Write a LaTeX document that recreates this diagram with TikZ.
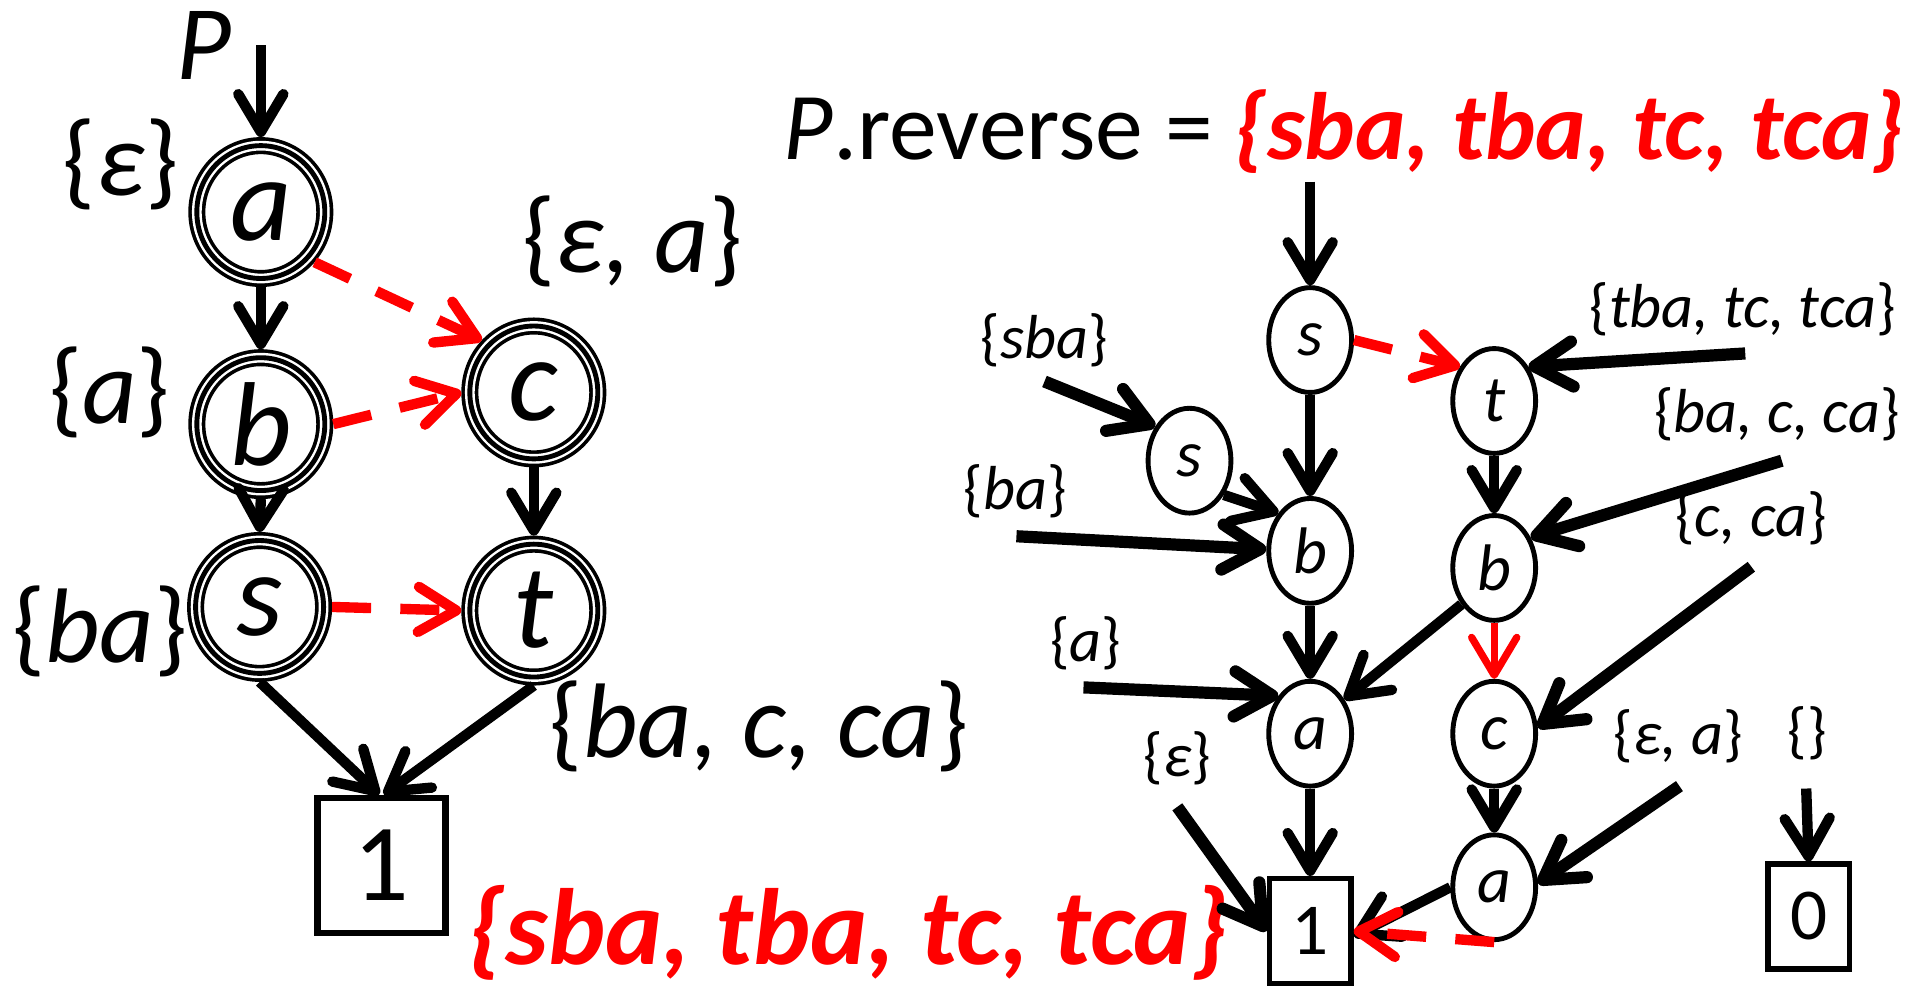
\documentclass[tikz,border=0pt]{standalone}
\usepackage{fontspec}
\setmainfont{Carlito}
\usetikzlibrary{arrows.meta,shapes.geometric}
\newcommand\mylb{\textup{\{}}
\newcommand\myrb{\textup{\}}}
\begin{document}
\begin{tikzpicture}[x=1pt,y=-1pt,
  every node/.style={inner sep=0pt},
  tri/.style={ellipse, draw=black, line width=14pt, fill=white,
    minimum width=105pt, minimum height=109pt,
    postaction={draw=white,line width=8pt},
    postaction={draw=black,line width=4pt},
    font=\fontsize{98}{98}\selectfont\itshape},
  rn/.style={ellipse, draw=black, line width=4pt, fill=white,
    minimum width=68pt, minimum height=86pt,
    font=\fontsize{54}{54}\selectfont\itshape},
  lbox/.style={rectangle, draw=black, line width=5pt, fill=white,
    minimum width=105pt, minimum height=111pt,
    font=\fontsize{90}{90}\selectfont},
  rbox/.style={rectangle, draw=black, line width=4.5pt, fill=white,
    minimum width=67pt, minimum height=86pt,
    font=\fontsize{60}{60}\selectfont},
  bl/.style={font=\fontsize{87}{87}\selectfont\itshape},
  sl/.style={font=\fontsize{51}{51}\selectfont\itshape},
  tip/.style={-{Straight Barb[length=31pt,width=37pt,line cap=round,line join=round]}},
  arr/.style={draw=black, line width=8.5pt, tip},
  larr/.style={draw=black, line width=10pt, tip},
  rdash/.style={draw=red, line width=8.5pt, dash pattern=on 32pt off 24pt, tip},
  rsolid/.style={draw=red, line width=6pt, tip}
]
\useasboundingbox (0,0) rectangle (1568,811);

% ---------------- left diagram ----------------
\node[tri] (a) at (214,174) {a};
\node[tri] (b) at (214,348) {b};
\node[tri] (s) at (213,498) {s};
\node[tri] (c) at (438,322) {c};
\node[tri] (t) at (438,501) {t};
\node[lbox] (one) at (313,710) {1};

\node[bl] (P) at (167,37) {P};
\coordinate (pin) at (214,37);
\node[bl] (la) at (99,135) {\mylb ε\myrb};
\node[bl] (lb) at (90,322) {\mylb a\myrb};
\node[bl] (ls) at (82,518) {\mylb ba\myrb};
\node[bl] (lc) at (519,198) {\mylb ε, a\myrb};
\node[bl] (lt) at (623,596) {\mylb ba, c, ca\myrb};
\node[font=\fontsize{89}{89}\selectfont\bfseries\itshape, text=red] (lone) at (696,765) {\{sba, tba, tc, tca\}};

\draw[arr] (pin) -- (a.north);
\draw[arr] (a.south) -- (b.north);
\draw[arr] (b.south) -- (s.north);
\draw[arr] (c.south) -- (t.north);
\draw[arr] (s.south) -- ([xshift=-2pt]one.north);
\draw[arr] (t.south) -- ([xshift=2pt]one.north);
\draw[rdash] (a.-43) -- (c.135);
\draw[rdash] (b.east) -- (c.west);
\draw[rdash] (s.east) -- (t.west);

% ---------------- right diagram ----------------
\node[anchor=base west, font=\fontsize{78.5}{78.5}\selectfont] (title) at (643,131)
  {\itshape P\upshape.reverse = {\color{red}\bfseries\itshape \{sba, tba, tc, tca\}}};
\coordinate (rin) at (1075,149);

\node[rn] (s1) at (1075,279) {s};
\node[rn] (t1) at (1226,329) {t};
\node[rn] (s2) at (976,378) {s};
\node[rn] (b1) at (1075,452) {b};
\node[rn] (b2) at (1226,466) {b};
\node[rn] (a1) at (1075,602) {a};
\node[rn] (c1) at (1226,602) {c};
\node[rn] (a2) at (1226,728) {a};
\node[rbox] (one2) at (1075,764) {1};
\node[rbox] (zero) at (1484,752) {0};

\node[sl] (lsba) at (857,279) {\mylb sba\myrb};
\node[sl] (ltba) at (1430,254) {\mylb tba, tc, tca\myrb};
\node[sl] (lbaca) at (1458,340) {\mylb ba, c, ca\myrb};
\node[sl] (lba) at (833,403) {\mylb ba\myrb};
\node[sl] (lcca) at (1437,425) {\mylb c, ca\myrb};
\node[sl] (la1) at (891,528) {\mylb a\myrb};
\node[sl] (leps) at (966,622) {\mylb ε\myrb};
\node[sl] (lea) at (1377,604) {\mylb ε, a\myrb};
\node[sl] (lempty) at (1483,602) {\mylb\myrb};

\coordinate (csba) at (857,313);
\coordinate (ctba) at (1432,290);
\coordinate (cbaca) at (1462,378);
\coordinate (cba) at (834,440);
\coordinate (ccca) at (1437,465);
\coordinate (ca1) at (889,564);
\coordinate (ceps) at (966,662);
\coordinate (cea) at (1378,645);
\coordinate (cempty) at (1482,647);

\draw[arr] (rin) -- (s1.north);
\draw[arr] (s1.south) -- (b1.north);
\draw[arr] (t1.south) -- (b2.north);
\draw[arr] (b1.south) -- (a1.north);
\draw[arr] (b2.-132) -- (a1.45);
\draw[arr] (s2.-45) -- (b1.130);
\draw[arr] (c1.south) -- (a2.north);
\draw[arr] (a1.south) -- (one2.north);
\draw[arr] (a2.west) -- ([yshift=-4pt]one2.east);
\draw[rsolid] (b2.south) -- (c1.north);
\draw[rdash] (s1.east) -- (t1.135);
\draw[rdash] (a2.south) -- (one2.east);

\draw[larr] (csba) -- (s2.135);
\draw[larr] (ctba) -- (t1.45);
\draw[larr] (cbaca) -- (b2.40);
\draw[larr] (cba) -- (b1.178);
\draw[larr] (ccca) -- (c1.8);
\draw[larr] (ca1) -- (a1.130);
\draw[larr] (ceps) -- (one2.west);
\draw[larr] (cea) -- (a2.5);
\draw[arr] (cempty) -- (zero.north);
\end{tikzpicture}
\end{document}
